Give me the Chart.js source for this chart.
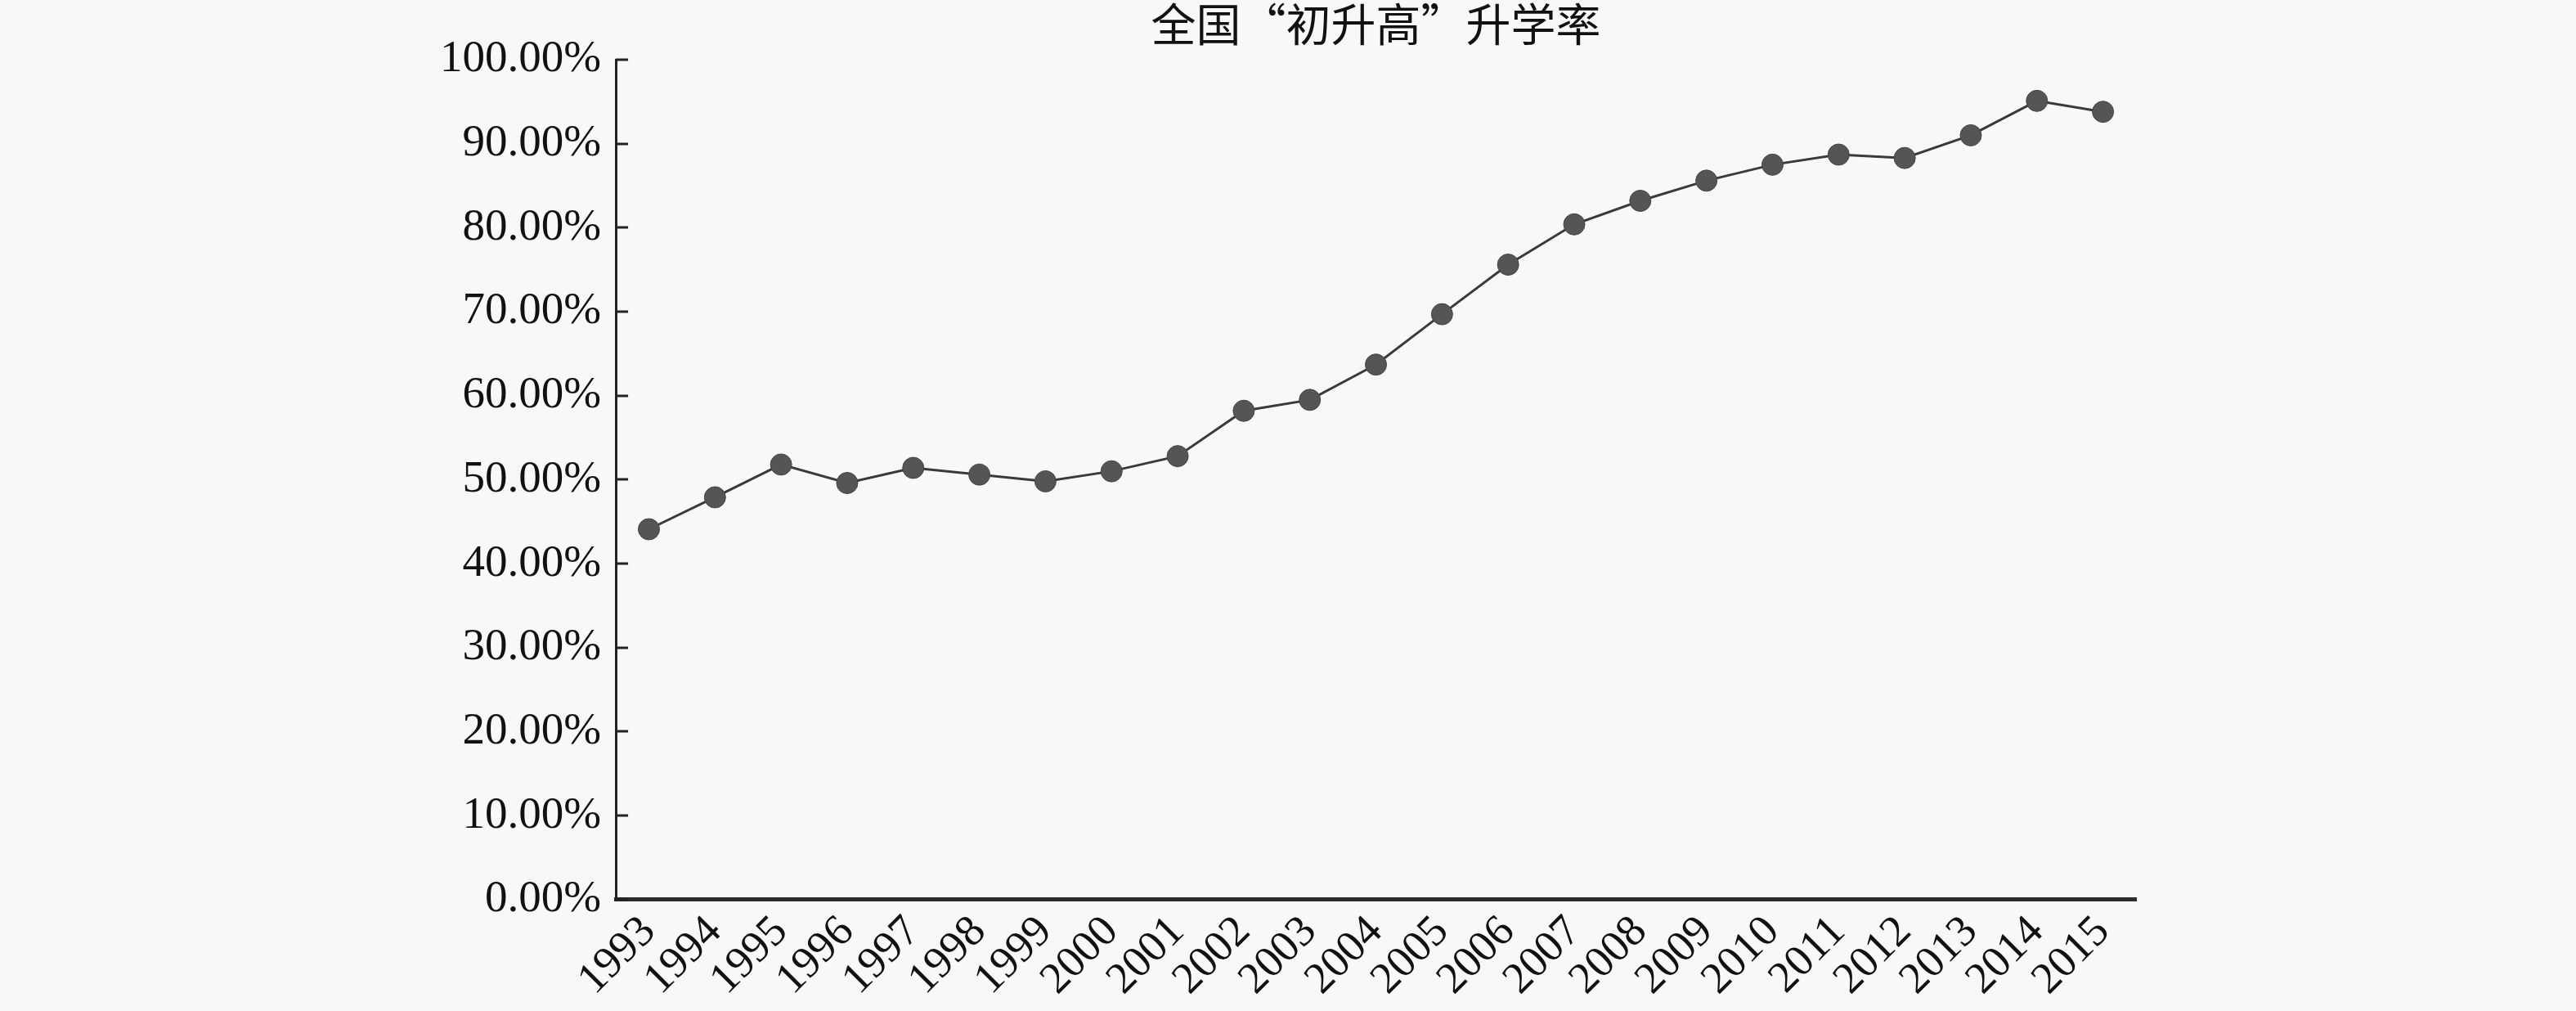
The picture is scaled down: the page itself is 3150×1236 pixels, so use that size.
<!DOCTYPE html>
<html>
<head>
<meta charset="utf-8">
<script src="https://cdn.jsdelivr.net/npm/chart.js@4"></script>
<style>
  html, body { margin: 0; padding: 0; background: #f8f8f8; }
  canvas { display: block; }
</style>
</head>
<body>
<canvas id="rateChart" width="3150" height="1236"></canvas>
<script>
// 全国“初升高”升学率 1993-2015
const years = ['1993','1994','1995','1996','1997','1998','1999','2000','2001','2002','2003',
  '2004','2005','2006','2007','2008','2009','2010','2011','2012','2013','2014','2015'];
const rates = [44.1, 47.9, 51.8, 49.6, 51.4, 50.6, 49.8, 51.0, 52.8, 58.2, 59.5,
  63.7, 69.7, 75.6, 80.4, 83.2, 85.6, 87.5, 88.7, 88.3, 91.0, 95.1, 93.8];
const yTicks = [0, 10, 20, 30, 40, 50, 60, 70, 80, 90, 100];

const serif = '"Liberation Serif", "Times New Roman", serif';

// small tick marks pointing into the plot on the y axis
const innerTicks = {
  id: 'innerTicks',
  afterDraw(chart) {
    const y = chart.scales.y;
    const ctx = chart.ctx;
    const left = chart.chartArea.left;
    ctx.save();
    ctx.strokeStyle = '#222';
    ctx.lineWidth = 3;
    yTicks.forEach(v => {
      const py = Math.round(y.getPixelForValue(v));
      ctx.beginPath();
      ctx.moveTo(left, py);
      ctx.lineTo(left + 15, py);
      ctx.stroke();
    });
    ctx.restore();
  }
};

const ctx = document.getElementById('rateChart').getContext('2d');
new Chart(ctx, {
  type: 'line',
  data: {
    labels: years,
    datasets: [{
      label: '升学率',
      data: rates,
      borderColor: '#3a3a3a',
      borderWidth: 3,
      pointRadius: 13,
      pointBackgroundColor: '#555',
      pointBorderColor: '#444',
      pointBorderWidth: 1,
      tension: 0,
      fill: false
    }]
  },
  options: {
    responsive: false,
    animation: false,
    devicePixelRatio: 1,
    layout: { padding: { left: 520, right: 538, top: 0, bottom: -2 } },
    plugins: {
      legend: { display: false },
      tooltip: { enabled: false },
      title: {
        display: true,
        text: '全国“初升高”升学率',
        fullSize: false,
        color: '#111',
        font: { family: '"Noto Sans CJK SC", serif', size: 55, weight: 'normal', lineHeight: 1.0 },
        padding: { top: 2, bottom: 16 }
      }
    },
    scales: {
      x: {
        offset: true,
        grid: { display: true, drawOnChartArea: false, drawTicks: false },
        border: { display: true, color: '#2b2b2b', width: 5 },
        ticks: {
          color: '#111',
          autoSkip: false,
          maxRotation: 45,
          minRotation: 45,
          padding: 8,
          font: { family: serif, size: 54 }
        }
      },
      y: {
        min: 0,
        max: 100,
        grid: { display: true, drawOnChartArea: false, drawTicks: false },
        border: { display: true, color: '#222', width: 3 },
        afterBuildTicks: axis => { axis.ticks = yTicks.map(v => ({ value: v })); },
        ticks: {
          color: '#111',
          padding: 18,
          font: { family: serif, size: 55 },
          callback: v => v.toFixed(2) + '%'
        }
      }
    }
  },
  plugins: [innerTicks]
});
</script>
</body>
</html>
